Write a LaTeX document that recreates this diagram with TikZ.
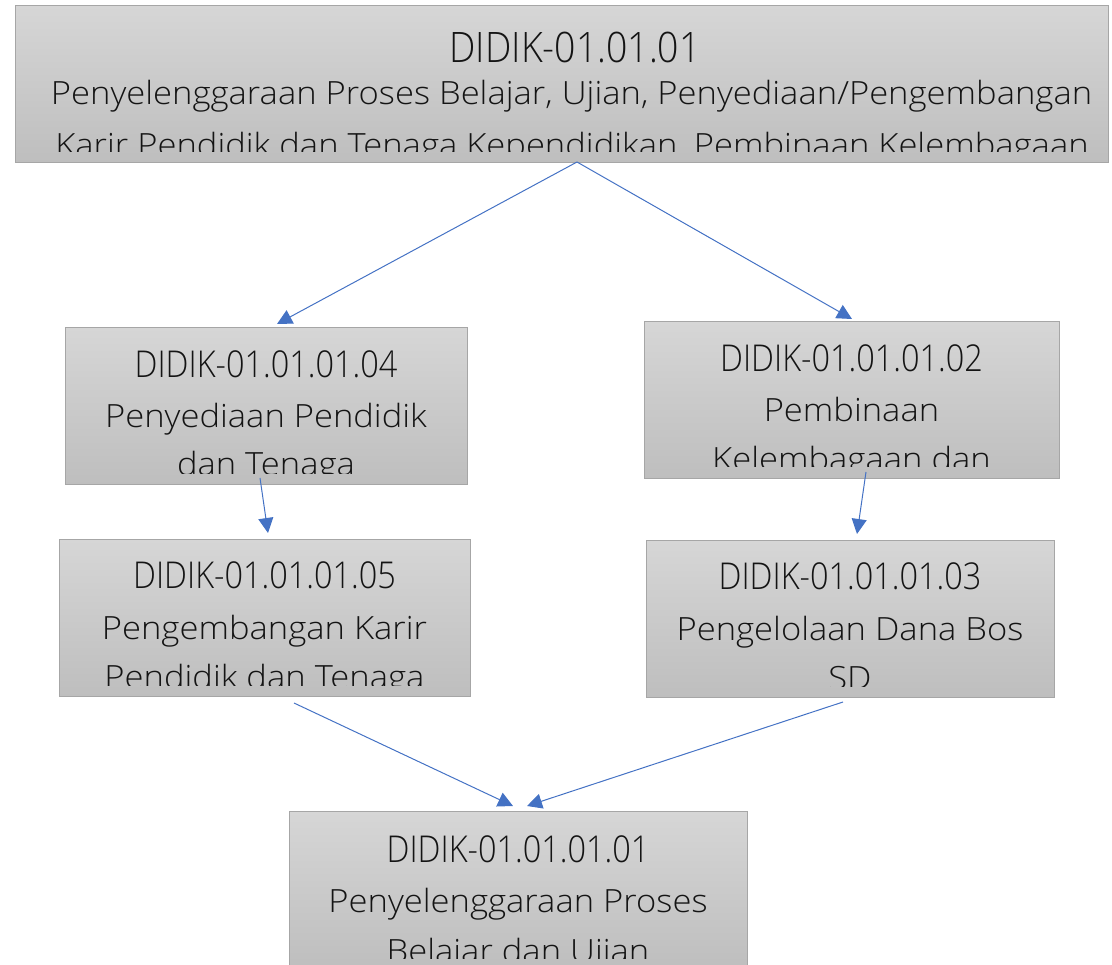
\documentclass[tikz,border=0pt]{standalone}
\usepackage{fontspec}
\setmainfont{Open Sans}[UprightFont={* Light}]
\usepackage{graphicx}
\usetikzlibrary{arrows.meta}

\definecolor{boxtop}{HTML}{D6D6D6}
\definecolor{boxbot}{HTML}{BEBEBE}
\definecolor{boxline}{HTML}{A6A6A6}
\definecolor{linkblue}{HTML}{4472C4}
\definecolor{ink}{HTML}{141414}

\tikzset{
  card/.style={draw=boxline, line width=1.2pt, top color=boxtop, bottom color=boxbot,
    inner sep=0pt, anchor=north west, minimum height=157pt},
  headline/.style={inner sep=0pt, anchor=base, text=ink, font=\fontsize{37}{37}\selectfont},
  bigheadline/.style={inner sep=0pt, anchor=base, text=ink, font=\fontsize{42}{42}\selectfont},
  bodyline/.style={inner sep=0pt, anchor=base, text=ink, font=\fontsize{32}{32}\selectfont},
  flow/.style={draw=linkblue, line width=1pt, -{Triangle[length=15pt,width=15pt]}},
}
% code lines are set tall and narrow, description lines slightly wide
\newcommand\codetext[1]{\scalebox{0.877}[1]{#1}}
\newcommand\bigcodetext[1]{\scalebox{0.89}[1]{#1}}
\newcommand\desctext[1]{\scalebox{1.08}[1]{#1}}

\begin{document}
\begin{tikzpicture}[x=1pt,y=-1pt]
\useasboundingbox (0,0) rectangle (1112,965);

% top card
\node[card, minimum width=1093pt] (top) at (15,5) {};
\begin{scope}
  \clip (15,6) rectangle (1108,152);
  \node[bigheadline] (topa) at (575,63) {\bigcodetext{DIDIK-01.01.01}};
  \node[bodyline] (topb) at (571.5,105) {\desctext{Penyelenggaraan Proses Belajar, Ujian, Penyediaan/Pengembangan}};
  \node[bodyline] (topc) at (572,157) {\desctext{Karir Pendidik dan Tenaga Kependidikan, Pembinaan Kelembagaan}};
\end{scope}

% 01.04
\node[card, minimum width=402pt] (c04) at (65,327) {};
\begin{scope}
  \clip (65,328) rectangle (467,474);
  \node[headline] (c04a) at (266,378) {\codetext{DIDIK-01.01.01.04}};
  \node[bodyline] (c04b) at (266,428) {\desctext{Penyediaan Pendidik}};
  \node[bodyline] (c04c) at (266,476) {\desctext{dan Tenaga}};
\end{scope}

% 01.02
\node[card, minimum width=415pt] (c02) at (644,321) {};
\begin{scope}
  \clip (644,322) rectangle (1059,467);
  \node[headline] (c02a) at (851.5,372) {\codetext{DIDIK-01.01.01.02}};
  \node[bodyline] (c02b) at (851.5,422) {\desctext{Pembinaan}};
  \node[bodyline] (c02c) at (851.5,471) {\desctext{Kelembagaan dan}};
\end{scope}

% 01.05
\node[card, minimum width=411pt] (c05) at (59,539) {};
\begin{scope}
  \clip (59,540) rectangle (470,685);
  \node[headline] (c05a) at (264.5,588) {\codetext{DIDIK-01.01.01.05}};
  \node[bodyline] (c05b) at (264.5,639) {\desctext{Pengembangan Karir}};
  \node[bodyline] (c05c) at (264.5,688) {\desctext{Pendidik dan Tenaga}};
\end{scope}

% 01.03
\node[card, minimum width=408pt] (c03) at (646,540) {};
\begin{scope}
  \clip (646,541) rectangle (1054,686);
  \node[headline] (c03a) at (850,589) {\codetext{DIDIK-01.01.01.03}};
  \node[bodyline] (c03b) at (850,640) {\desctext{Pengelolaan Dana Bos}};
  \node[bodyline] (c03c) at (850,689) {\desctext{SD}};
\end{scope}

% 01.01
\node[card, minimum width=458pt] (c01) at (289,811) {};
\begin{scope}
  \clip (289,812) rectangle (747,958);
  \node[headline] (c01a) at (518,862) {\codetext{DIDIK-01.01.01.01}};
  \node[bodyline] (c01b) at (518,912) {\desctext{Penyelenggaraan Proses}};
  \node[bodyline] (c01c) at (518,962) {\desctext{Belajar dan Ujian}};
\end{scope}

% connector ends
\coordinate (topout) at (577,162);
\coordinate (c04in) at (277,324);
\coordinate (c02in) at (852,319);
\coordinate (c04out) at (260,478);
\coordinate (c05in) at (268,533);
\coordinate (c02out) at (866,472);
\coordinate (c03in) at (857,534);
\coordinate (c05out) at (294,703);
\coordinate (c03out) at (843,702);
\coordinate (c01inl) at (513,806);
\coordinate (c01inr) at (527,806);

\draw[flow] (topout) -- (c04in);
\draw[flow] (topout) -- (c02in);
\draw[flow] (c04out) -- (c05in);
\draw[flow] (c02out) -- (c03in);
\draw[flow] (c05out) -- (c01inl);
\draw[flow] (c03out) -- (c01inr);
\end{tikzpicture}
\end{document}
